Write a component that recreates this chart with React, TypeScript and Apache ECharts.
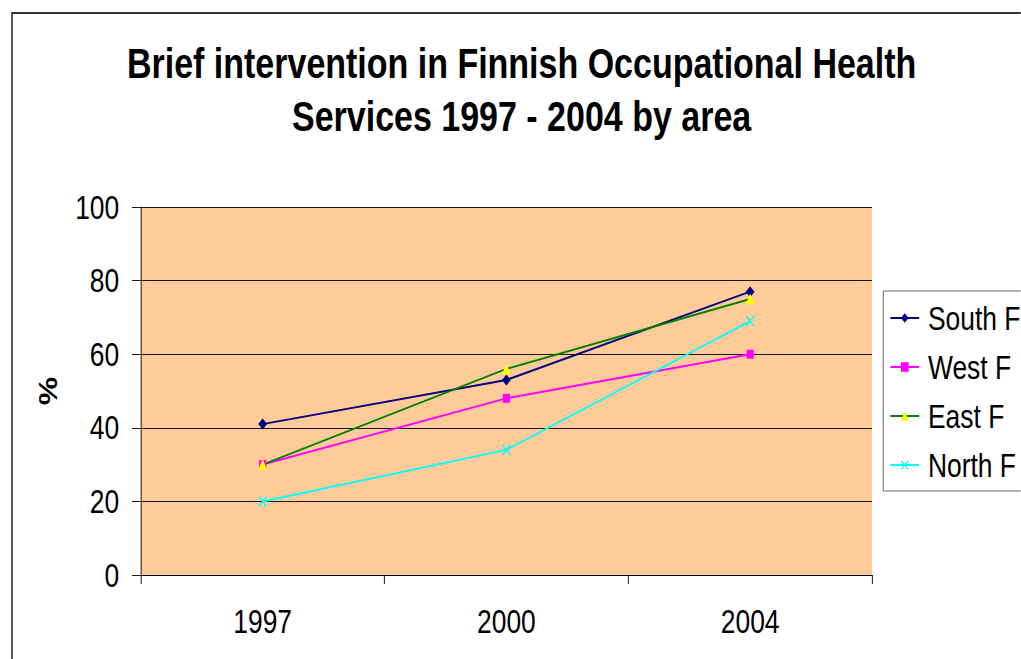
import React, { useEffect, useRef } from 'react';
import * as echarts from 'echarts';

const years = ['1997', '2000', '2004'];
const southF = [41, 53, 77];
const westF = [30, 48, 60];
const eastF = [30, 56, 75];
const northF = [20, 34, 69];
const yMin = 0;
const yMax = 100;
const yInterval = 20;
const titleText = 'Brief intervention in Finnish Occupational Health\nServices 1997 - 2004 by area';

const SX = 0.8;
const W = 1021 / SX;
const H = 659;
const FONT = '"Liberation Sans", Arial, Helvetica, sans-serif';
const X_SYMBOL = 'path://M1,0 L5,4 L9,0 L10,1 L6,5 L10,9 L9,10 L5,6 L1,10 L0,9 L4,5 L0,1 Z';

export default function App() {
  const ref = useRef<HTMLDivElement>(null);
  useEffect(() => {
    if (!ref.current) return;
    const chart = echarts.init(ref.current, undefined, { renderer: 'svg' });
    const mk = (name: string, data: number[], line: string, fill: string, symbol: string, size: number) => ({
      name,
      type: 'line',
      data,
      symbol,
      symbolSize: size,
      lineStyle: { color: line, width: 2 },
      itemStyle: { color: fill },
    });
    chart.setOption({
      animation: false,
      textStyle: { fontFamily: FONT },
      graphic: [
        {
          type: 'rect',
          silent: true,
          z: -10,
          shape: { x: 15, y: 13, width: 2000, height: 1000 },
          style: { fill: 'none', stroke: '#333', lineWidth: 2 },
        },
        {
          type: 'text',
          x: 652,
          y: 37,
          style: {
            text: titleText,
            fontSize: 42.5,
            fontWeight: 'bold',
            fontFamily: FONT,
            textAlign: 'center',
            lineHeight: 53,
            fill: '#000',
          },
        },
      ],
      grid: {
        left: 176,
        top: 207,
        width: 914,
        height: 368,
        show: true,
        backgroundColor: '#FFCC99',
        borderWidth: 0,
      },
      legend: {
        orient: 'vertical',
        left: 1104,
        top: 291,
        padding: [10, 8, 9, 8],
        borderColor: '#555',
        borderWidth: 1,
        itemWidth: 36,
        itemHeight: 12,
        itemGap: 15,
        textStyle: { fontSize: 33, lineHeight: 34, color: '#000', fontFamily: FONT, padding: [0, 0, 0, 6] },
        data: ['South F', 'West F', 'East F', 'North F'],
      },
      xAxis: {
        type: 'category',
        data: years,
        boundaryGap: true,
        axisLine: { lineStyle: { color: '#000', width: 1 } },
        axisTick: { show: true, length: 9, lineStyle: { color: '#000' } },
        axisLabel: { fontSize: 33, color: '#000', margin: 30, fontFamily: FONT },
      },
      yAxis: {
        type: 'value',
        min: yMin,
        max: yMax,
        interval: yInterval,
        name: '%',
        nameLocation: 'middle',
        nameRotate: 90,
        nameGap: 100,
        nameTextStyle: { fontSize: 32, fontWeight: 'bold', color: '#000', fontFamily: FONT },
        axisLine: { show: true, lineStyle: { color: '#000', width: 1 } },
        axisTick: { show: true, length: 11, lineStyle: { color: '#000' } },
        axisLabel: { fontSize: 33, color: '#000', margin: 27, fontFamily: FONT },
        splitLine: { show: true, lineStyle: { color: '#000', width: 1 } },
      },
      series: [
        mk('South F', southF, '#000080', '#000080', 'diamond', 11),
        mk('West F', westF, '#FF00FF', '#FF00FF', 'rect', 9),
        mk('East F', eastF, '#008000', '#FFFF00', 'triangle', 11),
        mk('North F', northF, '#00FFFF', '#00FFFF', X_SYMBOL, 11),
      ],
    });
    return () => chart.dispose();
  }, []);
  return (
    <div style={{ position: 'absolute', left: 0, top: 0, width: 1021, height: H, overflow: 'hidden', background: '#fff' }}>
      <div
        ref={ref}
        style={{ width: W, height: H, transform: `scaleX(${SX})`, transformOrigin: '0 0' }}
      />
    </div>
  );
}
